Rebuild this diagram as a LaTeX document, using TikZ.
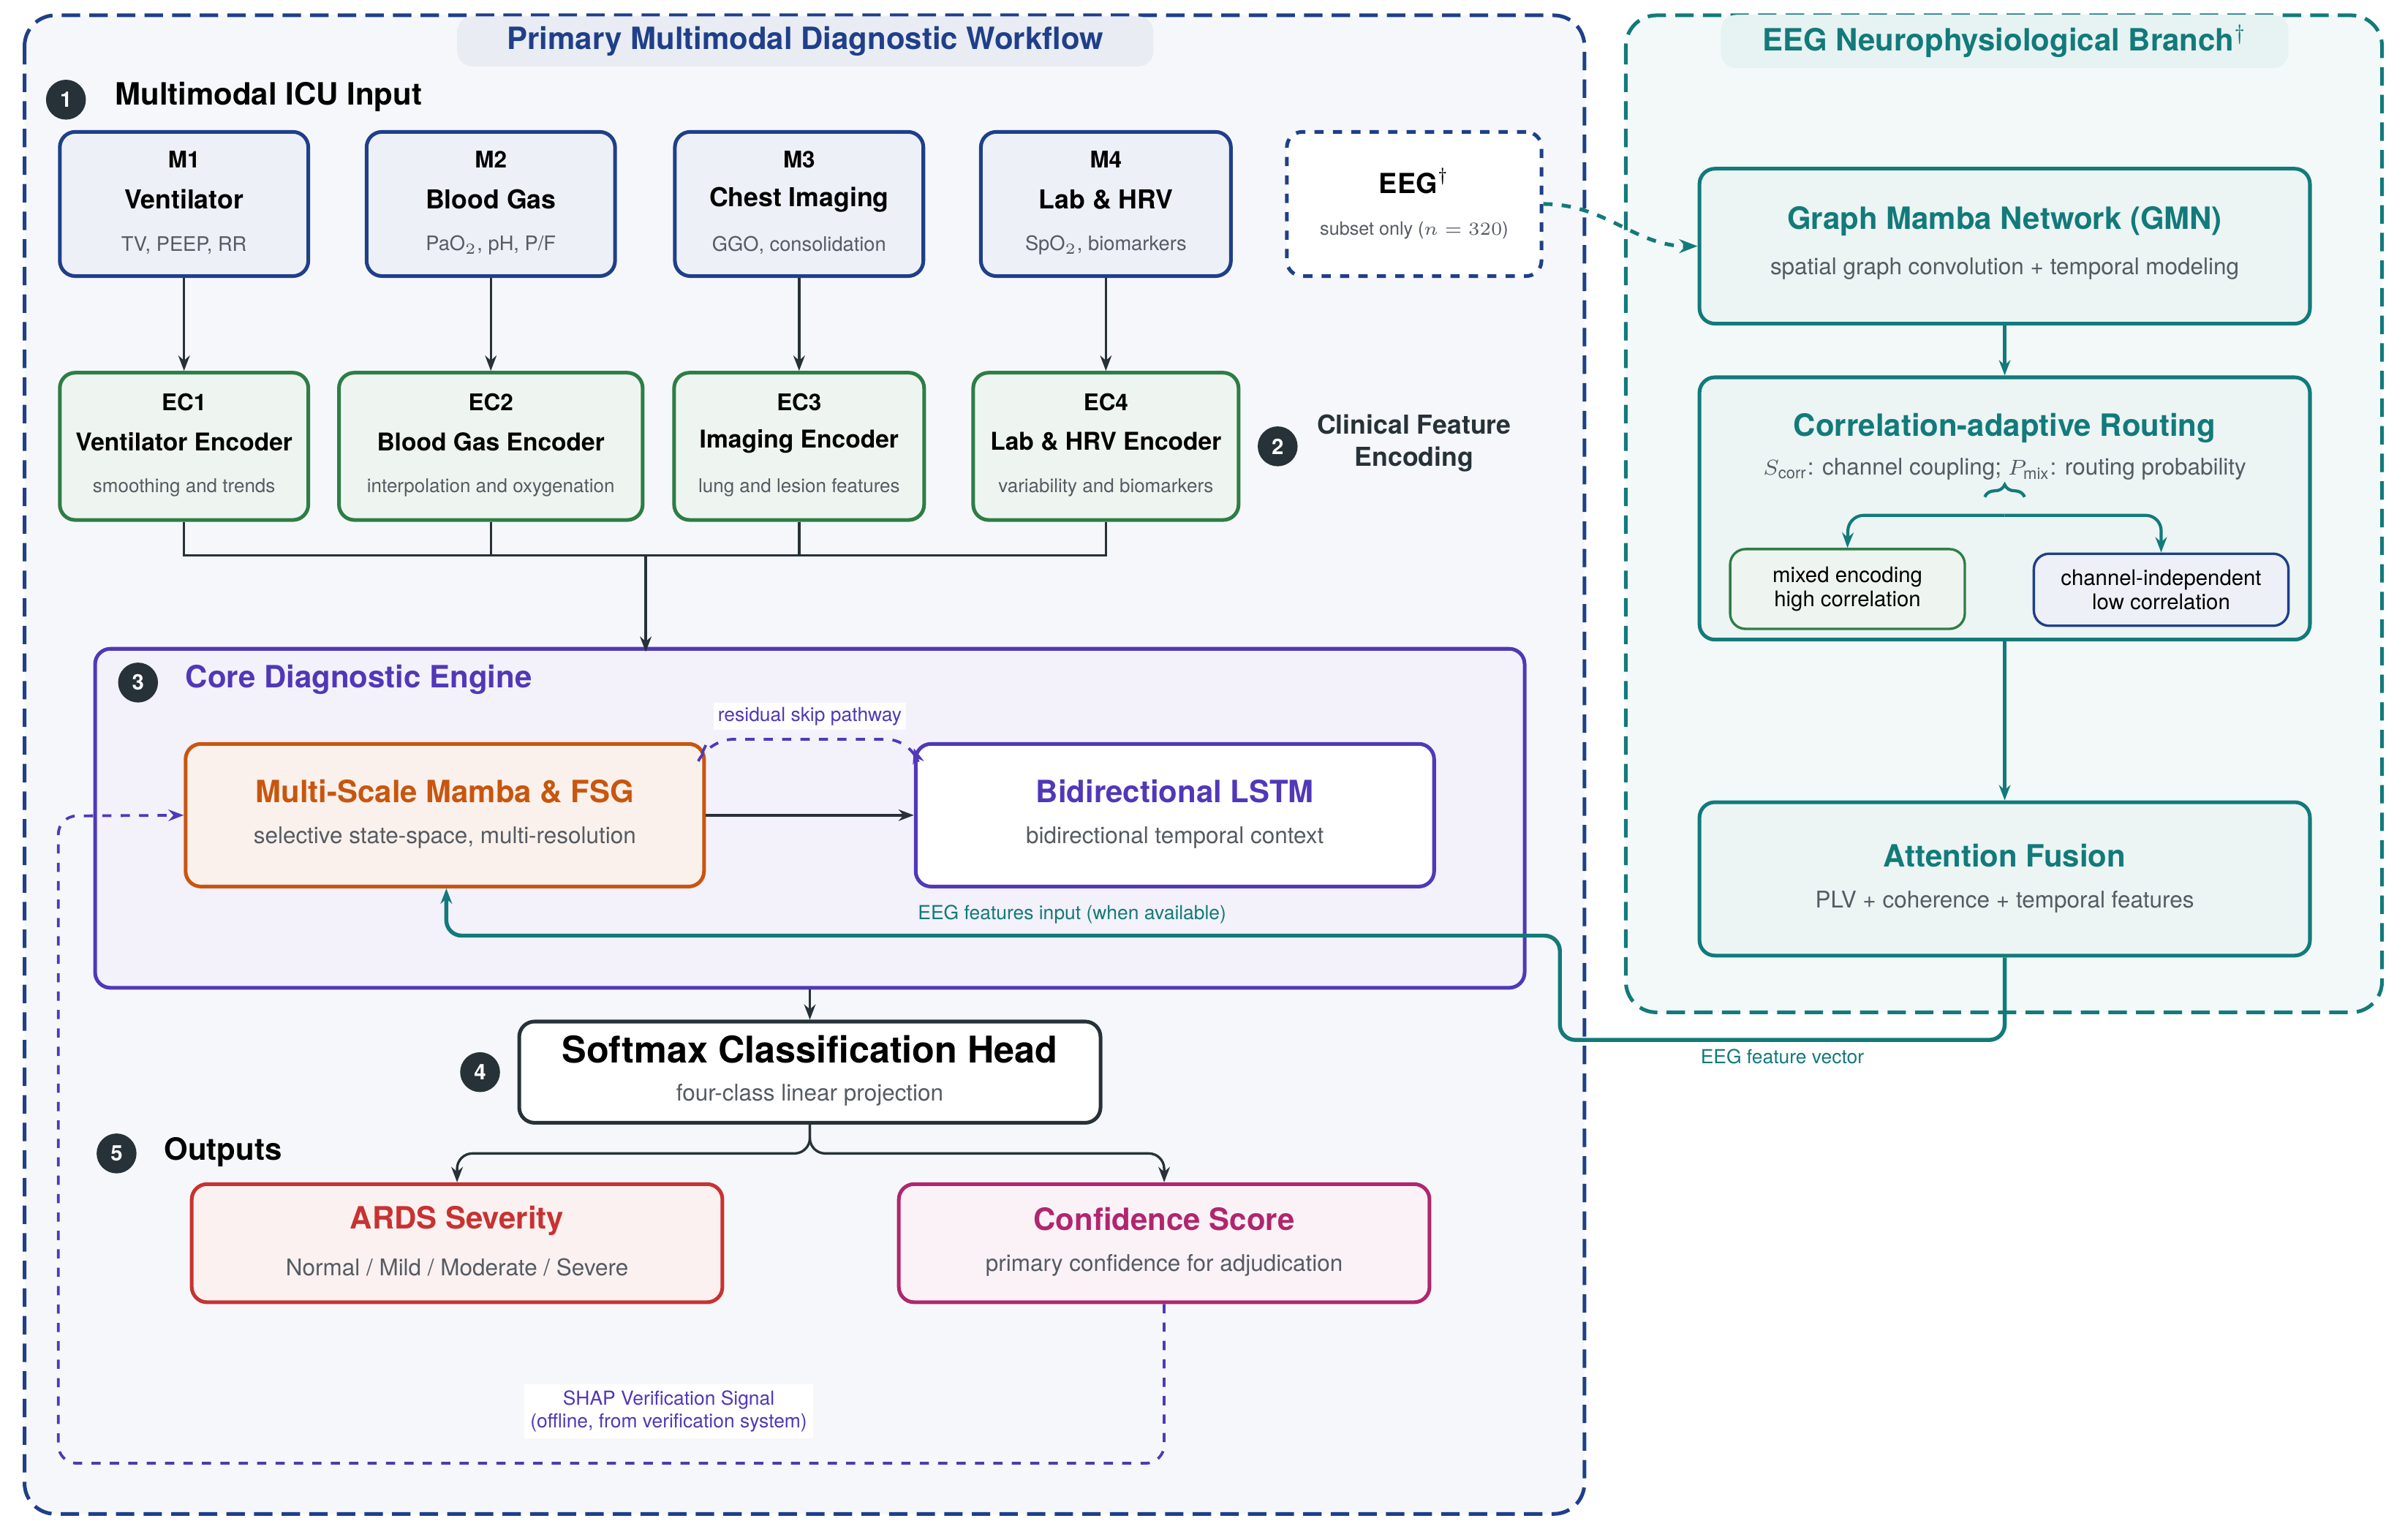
\documentclass[tikz,border=0pt]{standalone}
\usepackage{amsmath}
\usepackage{fontspec}
\setmainfont{TeX Gyre Heros}
\usetikzlibrary{positioning,arrows.meta,decorations.pathreplacing}
\definecolor{navy}{HTML}{1F3F8A}
\definecolor{teal}{HTML}{127A7A}
\definecolor{grn}{HTML}{2E7D46}
\definecolor{purp}{HTML}{5038B8}
\definecolor{orng}{HTML}{C8560F}
\definecolor{redd}{HTML}{C83232}
\definecolor{mag}{HTML}{B0266E}
\definecolor{dark}{HTML}{263238}
\definecolor{subg}{HTML}{555B63}

\begin{document}
\begin{tikzpicture}[x=0.5pt, y=-0.5pt,
    box/.style={draw, rounded corners=5pt, line width=1.2pt},
    modbox/.style={box, draw=navy, fill=navy!8},
    encbox/.style={box, draw=grn, fill=grn!8},
    eegbox/.style={box, draw=teal, fill=teal!8},
    head/.style={font=\bfseries\fontsize{7.5}{9}\selectfont},
    sub/.style={text=subg, font=\fontsize{6.5}{8}\selectfont},
    big/.style={font=\bfseries\fontsize{10}{12}\selectfont},
    mid/.style={text=subg, font=\fontsize{7.5}{9}\selectfont},
    small/.style={font=\fontsize{6.3}{7.5}\selectfont},
    num/.style={circle, fill=dark, text=white, inner sep=0pt, minimum size=13pt, font=\bfseries\fontsize{7}{8}\selectfont},
    arr/.style={-{Stealth[length=5pt]}, line width=0.8pt, draw=dark}
    ]
    \useasboundingbox (0,0) rectangle (1568,1004);
    %Panels
    \draw[navy, dashed, line width=1.2pt, fill=navy!4, rounded corners=10pt, dash pattern=on 6pt off 3pt]
        (16,10) rectangle (1033,987);
    \node[fill=navy!10, rounded corners=5pt, minimum width=227pt, minimum height=16pt, text=navy, font=\bfseries\fontsize{10}{12}\selectfont]
        (ptitle) at (525,27) {Primary Multimodal Diagnostic Workflow};
    \draw[teal, dashed, line width=1.2pt, fill=teal!5, rounded corners=10pt, dash pattern=on 6pt off 3pt]
        (1060,10) rectangle (1553,660);
    \node[fill=teal!10, rounded corners=5pt, minimum width=185pt, minimum height=16pt, text=teal, font=\bfseries\fontsize{10}{12}\selectfont]
        (etitle) at (1307,27) {EEG Neurophysiological Branch$^\dagger$};

    %Stage 1
    \node[num] (n1) at (43,65) {1};
    \node[big, anchor=west] (s1) at (68,63) {Multimodal ICU Input};
    \foreach \nm/\x/\w/\ttl/\txt/\sb in {
        m1/120/81/M1/Ventilator/{TV, PEEP, RR},
        m2/320/81/M2/Blood Gas/{PaO$_2$, pH, P/F},
        m3/521/81/M3/Chest Imaging/{GGO, consolidation},
        m4/721/81.5/M4/Lab \& HRV/{SpO$_2$, biomarkers}} {
        \node[modbox, minimum width=\w pt, minimum height=47pt] (\nm) at (\x,133) {};
        \node[head] at (\x,104) {\ttl};
        \node[head, font=\bfseries\fontsize{8.5}{10}\selectfont] at (\x,130) {\txt};
        \node[sub] at (\x,160) {\sb};
    }
    \node[box, draw=navy, fill=white, dashed, minimum width=83pt, minimum height=47pt] (eeg) at (922,133) {};
    \node[head, font=\bfseries\fontsize{9}{10}\selectfont] at (922,118) {EEG$^\dagger$};
    \node[sub, font=\fontsize{6}{7}\selectfont] at (922,150) {subset only ($n=320$)};

    %Stage 2
    \foreach \nm/\x/\w/\ttl/\txt/\sb in {
        ec1/120/81/EC1/Ventilator Encoder/smoothing and trends,
        ec2/320/99/EC2/Blood Gas Encoder/interpolation and oxygenation,
        ec3/521/81.5/EC3/Imaging Encoder/lung and lesion features,
        ec4/721/86.5/EC4/Lab \& HRV Encoder/variability and biomarkers} {
        \node[encbox, minimum width=\w pt, minimum height=48pt] (\nm) at (\x,291) {};
        \node[head] at (\x,262) {\ttl};
        \node[head, font=\bfseries\fontsize{8}{10}\selectfont] at (\x,288) {\txt};
        \node[sub, font=\fontsize{6.2}{7}\selectfont] at (\x,318) {\sb};
    }
    \foreach \a/\b in {m1/ec1,m2/ec2,m3/ec3,m4/ec4}
        \draw[arr] (\a) -- (\b);
    \node[num] (n2) at (833,291) {2};
    \node[align=center, font=\bfseries\fontsize{8.5}{10.5}\selectfont, text=dark] (s2) at (922,289) {Clinical Feature\\Encoding};
    \coordinate (bus) at (421,362);
    \draw[line width=0.8pt, dark] (ec1.south) -- (120,362) -- (721,362) -- (ec4.south);
    \draw[line width=0.8pt, dark] (ec2.south) -- (320,362);
    \draw[line width=0.8pt, dark] (ec3.south) -- (521,362);

    %Stage 3
    \node[box, draw=purp, fill=purp!7, minimum width=466pt, minimum height=110.5pt] (core) at (528,533.5) {};
    \draw[arr] (bus) -- (421,425);
    \node[num] (n3) at (90,445) {3};
    \node[big, text=purp, anchor=west] (s3) at (114,443) {Core Diagnostic Engine};
    \node[box, draw=orng, fill=orng!8, minimum width=169pt, minimum height=46.5pt] (msm) at (290,531.5) {};
    \node[big, text=orng] at (290,516) {Multi-Scale Mamba \& FSG};
    \node[mid] at (290,546) {selective state-space, multi-resolution};
    \node[box, draw=purp, fill=white, minimum width=169pt, minimum height=46.5pt] (lstm) at (766,531.5) {};
    \node[big, text=purp] at (766,516) {Bidirectional LSTM};
    \node[mid] at (766,546) {bidirectional temporal context};
    \draw[arr] (msm) -- (lstm);
    \draw[-{Stealth[length=5pt]}, dashed, line width=0.9pt, purp, rounded corners=8pt]
        (msm.north east) ++(0,2) -- (462,482) -- (594,482) -- ([yshift=-2pt]lstm.north west);
    \node[small, text=purp, fill=white, inner sep=1.5pt] (skip) at (528,467) {residual skip pathway};

    %Stage 4
    \node[box, draw=dark, fill=white, minimum width=189.5pt, minimum height=33pt] (soft) at (528,699) {};
    \node[font=\bfseries\fontsize{12}{14}\selectfont] at (528,684) {Softmax Classification Head};
    \node[mid] at (528,714) {four-class linear projection};
    \draw[arr] (core.south -| soft.north) -- (soft.north);
    \node[num] (n4) at (313,699) {4};

    %Stage 5
    \node[num] (n5) at (76,752) {5};
    \node[big, anchor=west] (s5) at (100,751) {Outputs};
    \node[box, draw=redd, fill=redd!7, minimum width=173pt, minimum height=38.5pt] (ards) at (298,810.5) {};
    \node[big, text=redd] at (298,796) {ARDS Severity};
    \node[mid] at (298,826) {Normal / Mild / Moderate / Severe};
    \node[box, draw=mag, fill=mag!6, minimum width=173pt, minimum height=38.5pt] (conf) at (759,810.5) {};
    \node[big, text=mag] at (759,795) {Confidence Score};
    \node[mid] at (759,825) {primary confidence for adjudication};
    \draw[arr, rounded corners=5pt] (soft.south) -- (528,752) -- (298,752) -- (ards.north);
    \draw[arr, rounded corners=5pt] (soft.south) -- (528,752) -- (759,752) -- (conf.north);
    \coordinate (shapc) at (38,954);
    \draw[-{Stealth[length=5pt]}, dashed, line width=0.9pt, purp, rounded corners=6pt]
        (conf.south) -- (759,954) -- (shapc) -- (38,532) -- (msm.west);
    \node[small, text=purp, fill=white, align=center, inner sep=2pt] (shap) at (436,920) {SHAP Verification Signal\\(offline, from verification system)};

    %EEG branch
    \node[eegbox, minimum width=199pt, minimum height=50.5pt] (gmn) at (1307,160.5) {};
    \node[big, text=teal] at (1307,144) {Graph Mamba Network (GMN)};
    \node[mid] at (1307,175) {spatial graph convolution + temporal modeling};
    \node[eegbox, minimum width=199pt, minimum height=85.5pt] (rout) at (1307,331.5) {};
    \node[big, text=teal] at (1307,279) {Correlation-adaptive Routing};
    \node[mid] at (1307,306) {$S_{\mathrm{corr}}$: channel coupling; $P_{\mathrm{mix}}$: routing probability};
    \node[box, line width=0.8pt, draw=grn, fill=grn!8, minimum width=76.5pt, minimum height=26pt, align=center, small, font=\fontsize{7}{8}\selectfont] (mix) at (1204.5,384) {mixed encoding\\high correlation};
    \node[box, line width=0.8pt, draw=navy, fill=navy!8, minimum width=83pt, minimum height=23.5pt, align=center, small, font=\fontsize{7}{8}\selectfont] (ind) at (1409,384.5) {channel-independent\\low correlation};
    \draw[teal, line width=1pt, decorate, decoration={brace, mirror, amplitude=4pt}] (1320,324) -- (1294,324);
    \draw[-{Stealth[length=5pt]}, teal, line width=1pt, rounded corners=5pt] (1307,336) -- (1205,336) -- (mix.north);
    \draw[-{Stealth[length=5pt]}, teal, line width=1pt, rounded corners=5pt] (1307,336) -- (1409,336) -- (ind.north);
    \node[eegbox, minimum width=199pt, minimum height=50pt] (att) at (1307,573) {};
    \node[big, text=teal] at (1307,558) {Attention Fusion};
    \node[mid] at (1307,588) {PLV + coherence + temporal features};
    \draw[-{Stealth[length=5pt]}, teal, line width=1pt] (gmn) -- (rout);
    \draw[-{Stealth[length=5pt]}, teal, line width=1pt] (rout) -- (att);
    \draw[-{Stealth[length=6pt]}, teal, dashed, line width=1.2pt] (eeg.east) to[out=0, in=180] (gmn.west);
    \draw[-{Stealth[length=5pt]}, teal, line width=1.3pt, rounded corners=5pt]
        (att.south) -- (1307,678) -- (1017,678) -- (1017,610) -- (291,610) -- (msm.south -| 291,0);
    \node[small, text=teal] (fin) at (699,596) {EEG features input (when available)};
    \node[small, text=teal] (fvec) at (1162,689) {EEG feature vector};
\end{tikzpicture}
\end{document}
